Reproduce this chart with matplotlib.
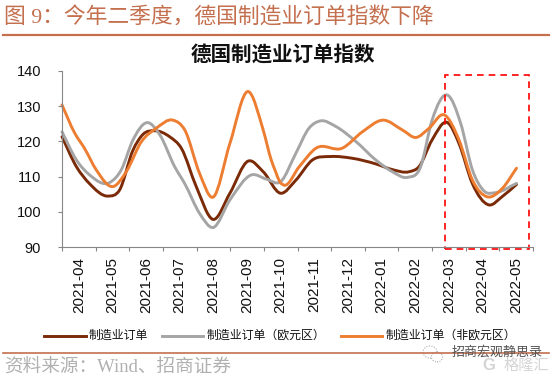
import matplotlib
matplotlib.use('Agg')
import matplotlib.pyplot as plt
import numpy as np
from matplotlib.path import Path
from matplotlib.patches import PathPatch, Rectangle, Ellipse

plt.rcParams['font.family'] = ['Liberation Sans', 'Noto Sans CJK SC', 'DejaVu Sans']
SERIF = ['Liberation Serif', 'Noto Sans CJK SC']

months = ['2021-04', '2021-05', '2021-06', '2021-07', '2021-08', '2021-09', '2021-10',
          '2021-11', '2021-12', '2022-01', '2022-02', '2022-03', '2022-04', '2022-05']

# values, x in category widths from the left axis
total_x = [0, .43, .82, 1.37, 1.71, 2.11, 2.41, 2.76, 3.2, 3.55, 3.99, 4.49, 4.99, 5.53, 5.98,
           6.5, 6.95, 7.44, 7.99, 8.63, 9.33, 9.82, 10.32, 10.61, 11.0, 11.46, 11.8, 12.2, 12.69, 13.09, 13.51]
total_y = [121.3, 112.8, 108, 104.5, 106.2, 117.5, 122, 123, 121.3, 118, 107.2, 97.9, 105.3, 114.4, 111.4,
           105.3, 109, 114.7, 115.7, 115.2, 113.6, 112, 111.4, 112.8, 120.4, 125.3, 119.4, 108, 102, 104.4, 107.8]
euro_x = [0, .43, .82, 1.43, 1.76, 2.11, 2.53, 2.91, 3.35, 3.65, 4.09, 4.49, 4.99, 5.63, 6.08,
          6.5, 6.95, 7.34, 7.69, 8.14, 8.73, 9.33, 9.82, 10.27, 10.66, 11.0, 11.46, 11.85, 12.2, 12.55, 12.9, 13.51]
euro_y = [122.7, 114.7, 110.5, 108.4, 111.9, 120.4, 125.3, 121.8, 112.8, 108, 99.6, 95.6, 103.4, 110.5, 109.3,
          108.6, 116.6, 123.7, 125.8, 124.2, 120, 114.7, 111.4, 109.8, 112.8, 126, 133.1, 125.1, 111.9, 105.9, 105.5, 108.1]
non_x = [0, .38, .67, 1.02, 1.52, 1.91, 2.36, 2.8, 3.3, 3.65, 4.09, 4.49, 4.99, 5.53, 5.98, 6.22, 6.35, 6.47,
         6.6, 7.05, 7.54, 8.34, 8.93, 9.55, 10.12, 10.52, 10.91, 11.36, 11.8, 12.2, 12.64, 13.09, 13.51]
non_y = [130.3, 122.3, 118, 111.9, 107.2, 111.4, 119.9, 123.7, 126, 123.2, 110.9, 104.2, 119.4, 134.1, 123.2, 114.7, 111.4, 108.6,
         107.6, 112.8, 118, 118.1, 122.7, 126, 123.2, 121.1, 123.7, 127.5, 120.4, 109, 104.3, 106.7, 112.4]
yticks = [90, 100, 110, 120, 130, 140]


def smooth(ax, xs, ys, color):
    # cubic through the read points with slopes scaled to the uneven x gaps
    x = np.array(xs, float)
    y = np.array(ys, float)
    m = np.gradient(y, x)
    verts = [(x[0], y[0])]
    codes = [Path.MOVETO]
    for i in range(len(x) - 1):
        h = (x[i + 1] - x[i]) / 3
        verts += [(x[i] + h, y[i] + m[i] * h), (x[i + 1] - h, y[i + 1] - m[i + 1] * h), (x[i + 1], y[i + 1])]
        codes += [Path.CURVE4] * 3
    ax.add_patch(PathPatch(Path(verts, codes), fc='none', ec=color, lw=2.1, capstyle='round', clip_on=False))


W, H = 556, 378
fig = plt.figure(figsize=(W / 100, H / 100), dpi=100)
ax = fig.add_axes([62 / W, 1 - 247.3 / H, 471 / W, 176.6 / H])

smooth(ax, total_x, total_y, '#7A2A06')
smooth(ax, euro_x, euro_y, '#A5A5A5')
smooth(ax, non_x, non_y, '#ED7D31')

ax.set_xlim(0, 14)
ax.set_ylim(90, 140)
ax.set_yticks(yticks)
ax.set_xticks(np.arange(15))
ax.set_xticklabels([])
ax.set_xticks(np.arange(14) + .5, labels=months, minor=True, rotation=90, fontsize=11, color='#111111')
ax.tick_params(axis='x', which='minor', length=0, pad=7)
ax.tick_params(axis='x', which='major', length=3, color='#868686')
ax.tick_params(axis='y', length=3, color='#868686', labelsize=10.5, labelcolor='#111111', pad=12)
for s in ['top', 'right']:
    ax.spines[s].set_visible(False)
for s in ['left', 'bottom']:
    ax.spines[s].set_color('#868686')

# red box around the last three months
ax.add_patch(Rectangle((11.39, 89.5), 2.5, 49.3, fc='none', ec='#FF0000', lw=1.2, ls=(0, (4, 3)), clip_on=False))

fig.text(283 / W, 1 - 55 / H, '德国制造业订单指数', ha='center', va='center', fontsize=14.8, fontweight='bold', color='#111111')
fig.text(4 / W, 1 - 18 / H, '图 9\uff1a今年二季度\uff0c德国制造业订单指数下降', ha='left', va='center', fontsize=15.7, color='#C46F4E', family=SERIF)
fig.add_artist(plt.Line2D([3 / W, 549 / W], [1 - 35 / H] * 2, color='#C46F4E', lw=1.6))
fig.add_artist(plt.Line2D([3 / W, 549 / W], [1 - 353 / H] * 2, color='#C46F4E', lw=1.2))
fig.text(4 / W, 1 - 367 / H, '资料来源\uff1aWind、招商证券', ha='left', va='center', fontsize=13.4, color='#B0B0B0', family=SERIF)

# legend drawn by hand to sit where the original has it
for x0, x1, c, tx, t in [(44, 86, '#7A2A06', 89, '制造业订单'),
                         (162, 203, '#A5A5A5', 207, '制造业订单\uff08欧元区\uff09'),
                         (341, 382, '#ED7D31', 386, '制造业订单\uff08非欧元区\uff09')]:
    fig.add_artist(plt.Line2D([x0 / W, x1 / W], [1 - 336 / H] * 2, color=c, lw=2.1))
    fig.text(tx / W, 1 - 336 / H, t, ha='left', va='center', fontsize=8.6, color='#111111')

# watermark over the bottom rule
fig.add_artist(Ellipse((430 / W, 1 - 352 / H), 14 / W, 12 / H, transform=fig.transFigure, fc='white', ec='#999999', lw=.7, ls=':'))
fig.add_artist(Ellipse((437 / W, 1 - 357 / H), 11 / W, 10 / H, transform=fig.transFigure, fc='white', ec='#999999', lw=.7, ls=':'))
fig.text(452 / W, 1 - 352 / H, '招商宏观静思录', ha='left', va='center', fontsize=9.4, color='#555555')
fig.text(482 / W, 1 - 366 / H, 'G', ha='left', va='center', fontsize=12, color='#D5D5D5', fontweight='bold')
fig.text(504 / W, 1 - 366 / H, '格隆汇', ha='left', va='center', fontsize=11, color='#D5D5D5')

plt.savefig('out.png', dpi=100)
